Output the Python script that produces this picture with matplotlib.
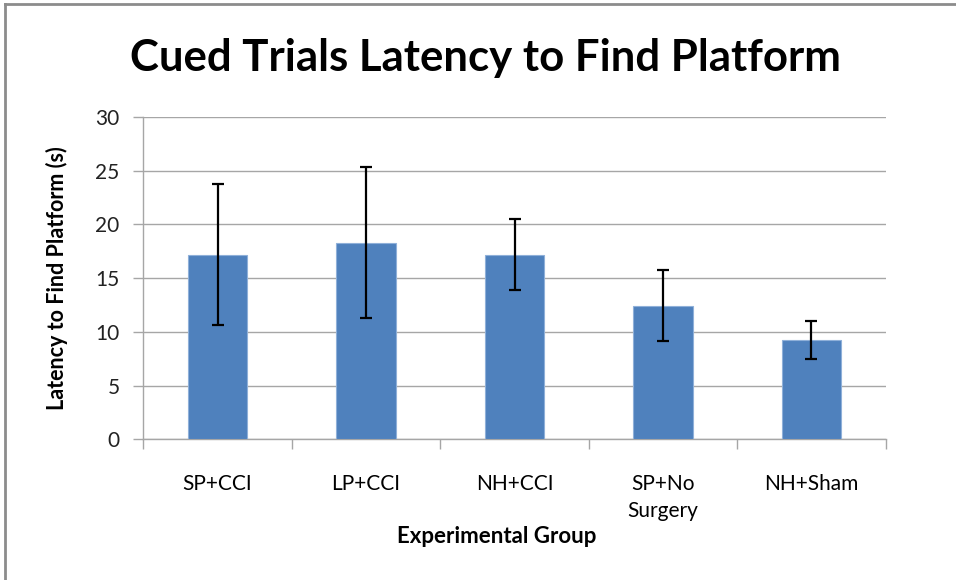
import matplotlib.pyplot as plt
import numpy as np
from matplotlib.lines import Line2D

groups = ["SP+CCI", "LP+CCI", "NH+CCI", "SP+No\nSurgery", "NH+Sham"]
latency = [17.2, 18.3, 17.2, 12.45, 9.25]
errors = [6.6, 7.0, 3.3, 3.3, 1.75]
y_ticks = [0, 5, 10, 15, 20, 25, 30]

plt.rcParams['font.family'] = ['Lato', 'DejaVu Sans']

fig = plt.figure(figsize=(9.56, 5.8), dpi=100)
ax = fig.add_axes([0.1499, 0.2426, 0.7766, 0.5557])

x = np.arange(len(groups))
ax.bar(x, latency, 0.4, color='#4f81bd', edgecolor='#8fb0d9', linewidth=0.8, zorder=3)
ax.errorbar(x, latency, yerr=errors, fmt='none', ecolor='black', elinewidth=1.6,
            capsize=4, capthick=1.6, zorder=4)

ax.set_xlim(-0.5, len(groups) - 0.5)
ax.set_ylim(0, 30)
ax.set_yticks(y_ticks)
ax.yaxis.grid(True, color='#a6a6a6', linewidth=1.0, zorder=0)
ax.set_axisbelow(True)

ax.set_xticks(x)
ax.set_xticklabels(groups, fontsize=15, linespacing=1.45)
ax.set_xticks(np.arange(-0.5, len(groups), 1.0), minor=True)
ax.tick_params(axis='x', which='major', length=0, pad=25)
ax.tick_params(axis='x', which='minor', length=7, color='#a6a6a6', width=1.0)
ax.tick_params(axis='y', length=7, color='#a6a6a6', width=1.0, labelsize=15,
               pad=10, labelcolor='#222222')

for s in ['top', 'right']:
    ax.spines[s].set_visible(False)
for s in ['left', 'bottom']:
    ax.spines[s].set_color('#a6a6a6')
    ax.spines[s].set_linewidth(1.0)

ax.set_ylabel('Latency to Find Platform (s)', fontsize=15.5, fontweight='bold', labelpad=20)
fig.text(0.52, 0.075, 'Experimental Group', ha='center', va='center',
         fontsize=16, fontweight='bold')
fig.text(0.508, 0.9, 'Cued Trials Latency to Find Platform', ha='center', va='center',
         fontsize=31.5, fontweight='bold')

# chart frame (left and top edges visible)
fig.add_artist(Line2D([0.0048, 0.0048], [0, 0.993], transform=fig.transFigure,
                      color='#8c8c8c', linewidth=2))
fig.add_artist(Line2D([0.0048, 1.0], [0.993, 0.993], transform=fig.transFigure,
                      color='#8c8c8c', linewidth=2))

fig.savefig('out.png', dpi=100)
